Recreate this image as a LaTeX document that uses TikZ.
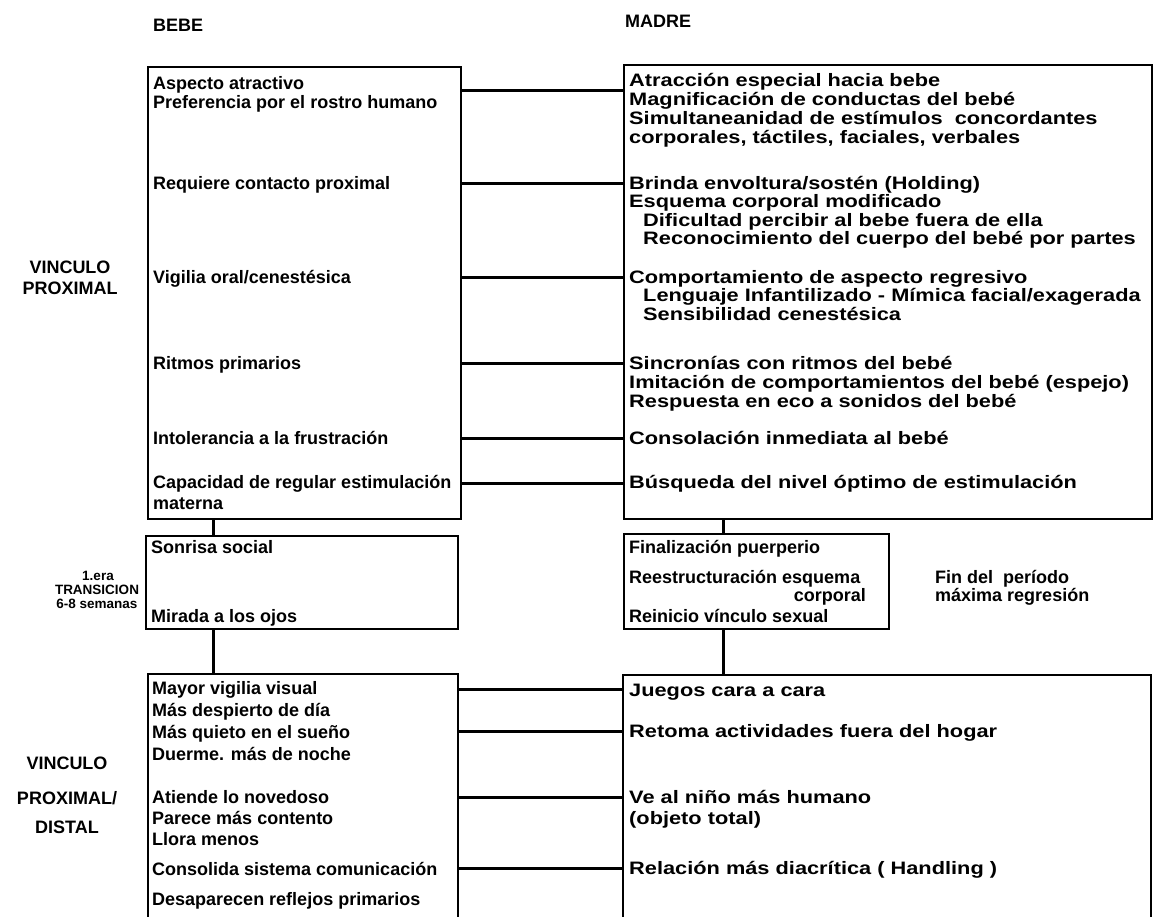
\documentclass[tikz,border=0pt]{standalone}
\usepackage{fontspec}
\setmainfont{Liberation Sans}
\newfontfamily\widesans{Liberation Sans}[FakeStretch=1.21]
\begin{document}
\begin{tikzpicture}[x=1pt,y=-1pt,
  box/.style={draw, line width=2pt, rectangle, inner sep=0pt, anchor=north west},
  txt/.style={anchor=base west, inner sep=0pt, font=\fontsize{18}{20}\selectfont\bfseries},
  wtxt/.style={anchor=base west, inner sep=0pt, font=\widesans\fontsize{18}{20}\selectfont\bfseries},
  lbl/.style={anchor=center, inner sep=0pt, font=\fontsize{18}{20}\selectfont\bfseries},
  small/.style={anchor=center, inner sep=0pt, font=\fontsize{13.5}{15}\selectfont\bfseries},
  conn/.style={line width=3pt}]
\useasboundingbox (0,0) rectangle (1153,916);
\clip (0,0) rectangle (1153,916);
% headers
\node[txt] (hbebe) at (153,31) {BEBE};
\node[txt] (hmadre) at (625,27) {MADRE};
% boxes
\node[box, minimum width=313pt, minimum height=452pt] (tl) at (147,66) {};
\node[box, minimum width=528pt, minimum height=454pt] (tr) at (623,64) {};
\node[box, minimum width=312pt, minimum height=93pt] (ml) at (145,535) {};
\node[box, minimum width=265pt, minimum height=95pt] (mr) at (623,533) {};
\node[box, minimum width=310pt, minimum height=280pt] (bl) at (147,673) {};
\node[box, minimum width=528pt, minimum height=280pt] (br) at (622,674) {};
% side labels
\node[lbl] (v1a) at (70,267) {VINCULO};
\node[lbl] (v1b) at (70,288) {PROXIMAL};
\node[small] (t1a) at (98,576) {1.era};
\node[small] (t1b) at (97,590) {TRANSICION};
\node[small] (t1c) at (97,604) {6-8 semanas};
\node[lbl] (v2a) at (67,763) {VINCULO};
\node[lbl] (v2b) at (67,798) {PROXIMAL/};
\node[lbl] (v2c) at (67,827) {DISTAL};
% top left texts
\node[txt] (a1) at (153,89) {Aspecto atractivo};
\node[txt] (a2) at (153,108) {Preferencia por el rostro humano};
\node[txt] (a3) at (153,189) {Requiere contacto proximal};
\node[txt] (a4) at (153,283) {Vigilia oral/cenestésica};
\node[txt] (a5) at (153,369) {Ritmos primarios};
\node[txt] (a6) at (153,444) {Intolerancia a la frustración};
\node[txt] (a7) at (153,488) {Capacidad de regular estimulación};
\node[txt] (a8) at (153,509) {materna};
% top right texts
\node[wtxt] (b1) at (629,86) {Atracción especial hacia bebe};
\node[wtxt] (b2) at (629,105) {Magnificación de conductas del bebé};
\node[wtxt] (b3) at (629,124) {Simultaneanidad de estímulos\ \ concordantes};
\node[wtxt] (b4) at (629,143) {corporales, táctiles, faciales, verbales};
\node[wtxt] (b5) at (629,189) {Brinda envoltura/sostén (Holding)};
\node[wtxt] (b6) at (629,207) {Esquema corporal modificado};
\node[wtxt] (b7) at (643,226) {Dificultad percibir al bebe fuera de ella};
\node[wtxt] (b8) at (643,244) {Reconocimiento del cuerpo del bebé por partes};
\node[wtxt] (b9) at (629,283) {Comportamiento de aspecto regresivo};
\node[wtxt] (b10) at (643,301) {Lenguaje Infantilizado - Mímica facial/exagerada};
\node[wtxt] (b11) at (643,320) {Sensibilidad cenestésica};
\node[wtxt] (b12) at (629,369) {Sincronías con ritmos del bebé};
\node[wtxt] (b13) at (629,388) {Imitación de comportamientos del bebé (espejo)};
\node[wtxt] (b14) at (629,407) {Respuesta en eco a sonidos del bebé};
\node[wtxt] (b15) at (629,444) {Consolación inmediata al bebé};
\node[wtxt] (b16) at (629,488) {Búsqueda del nivel óptimo de estimulación};
% middle texts
\node[txt] (c1) at (151,553) {Sonrisa social};
\node[txt] (c2) at (151,622) {Mirada a los ojos};
\node[txt] (d1) at (629,553) {Finalización puerperio};
\node[txt] (d2) at (629,583) {Reestructuración esquema};
\node[txt, anchor=base east] (d3) at (866,601) {corporal};
\node[txt] (d4) at (629,622) {Reinicio vínculo sexual};
\node[txt] (e1) at (935,583) {Fin del\ \ período};
\node[txt] (e2) at (935,601) {máxima regresión};
% bottom left texts
\node[txt] (f1) at (152,694) {Mayor vigilia visual};
\node[txt] (f2) at (152,716) {Más despierto de día};
\node[txt] (f3) at (152,738) {Más quieto en el sueño};
\node[txt] (f4) at (152,760) {Duerme. más de noche};
\node[txt] (f5) at (152,803) {Atiende lo novedoso};
\node[txt] (f6) at (152,824) {Parece más contento};
\node[txt] (f7) at (152,845) {Llora menos};
\node[txt] (f8) at (152,875) {Consolida sistema comunicación};
\node[txt] (f9) at (152,905) {Desaparecen reflejos primarios};
% bottom right texts
\node[wtxt] (g1) at (629,696) {Juegos cara a cara};
\node[wtxt] (g2) at (629,737) {Retoma actividades fuera del hogar};
\node[wtxt] (g3) at (629,803) {Ve al niño más humano};
\node[wtxt] (g4) at (629,824) {(objeto total)};
\node[wtxt] (g5) at (629,874) {Relación más diacrítica ( Handling )};
% connector levels
\coordinate (y1) at (0,90);
\coordinate (y2) at (0,183);
\coordinate (y3) at (0,277);
\coordinate (y4) at (0,363);
\coordinate (y5) at (0,438);
\coordinate (y6) at (0,483);
\coordinate (z1) at (0,689);
\coordinate (z2) at (0,731);
\coordinate (z3) at (0,797);
\coordinate (z4) at (0,868);
\coordinate (xl) at (213,0);
\coordinate (xr) at (723,0);
\foreach \c in {y1,y2,y3,y4,y5,y6}
  \draw[conn] (tl.east |- \c) -- (tr.west |- \c);
\foreach \c in {z1,z2,z3,z4}
  \draw[conn] (bl.east |- \c) -- (br.west |- \c);
\draw[conn] (tl.south -| xl) -- (ml.north -| xl);
\draw[conn] (ml.south -| xl) -- (bl.north -| xl);
\draw[conn] (tr.south -| xr) -- (mr.north -| xr);
\draw[conn] (mr.south -| xr) -- (br.north -| xr);
\end{tikzpicture}
\end{document}
